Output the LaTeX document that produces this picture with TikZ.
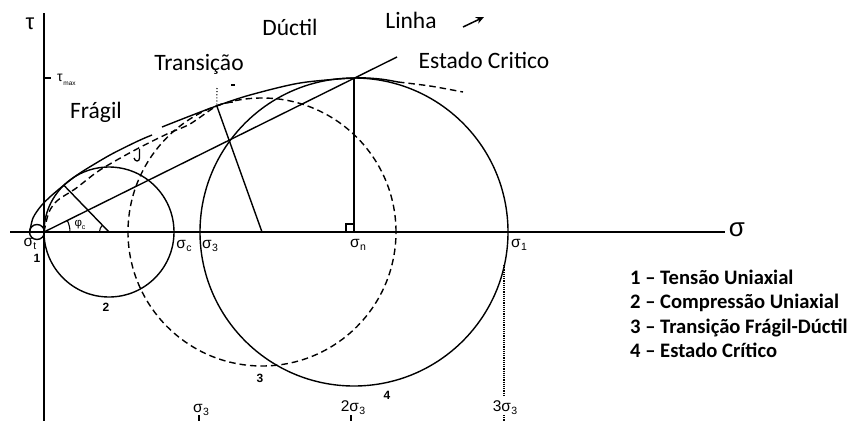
\documentclass[tikz,border=0pt]{standalone}
\usepackage{fontspec}
\setmainfont{Carlito}
\newfontfamily\ls{Liberation Sans}
\usetikzlibrary{arrows.meta}
\newcommand\sgl[2]{{\ls σ\kern0.02em\raisebox{-0.35ex}{\fontsize{#2}{#2}\selectfont #1}}}
\begin{document}
\begin{tikzpicture}[x=1pt,y=-1pt, line cap=butt,
  crv/.style={line width=1.4pt},
  dsh/.style={line width=1.4pt, dash pattern=on 6.5pt off 4pt},
  ax/.style={line width=1.8pt},
  thin1/.style={line width=1.1pt},
  lbl/.style={font=\fontsize{23.5}{27}\selectfont, anchor=base, inner sep=0pt},
  leg/.style={font=\bfseries\fontsize{20.6}{24}\selectfont, anchor=base west, inner sep=0pt},
  sig/.style={font=\ls\fontsize{15.5}{18}\selectfont, inner sep=0pt},
  num/.style={font=\ls\bfseries\fontsize{12}{14}\selectfont, inner sep=0pt}]
\useasboundingbox (0,0) rectangle (859,421);
% key points
\coordinate (O) at (44,232);
\coordinate (C1) at (37,232);
\coordinate (C2) at (109,232);
\coordinate (C3) at (262,232);
\coordinate (C4) at (354,232);
\coordinate (T2) at (63.8,185.2);
\coordinate (T3) at (216.8,105.9);
\coordinate (T4) at (354,78);
\coordinate (Lend) at (397,57);
% axes
\draw[ax] (10,232) -- (725,232);
\draw[ax] (44,13) -- (44,421);
\draw[thin1] (44,78) -- (51,78);
% Mohr circles
\draw[crv] (C1) circle (7.5pt);
\draw[crv] (C2) circle (65pt);
\draw[dsh] (C3) circle (134pt);
\draw[crv] (C4) circle (154pt);
% radii
\draw[crv] (C2) -- (T2);
\draw[crv] (C3) -- (T3);
\draw[crv] (C4) -- (T4);
\draw[thin1] (346,232) -- (346,224) -- (354,224);
\draw[thin1] (99.5,232) arc[start angle=180,end angle=134,radius=9.5pt];
% critical state line
\draw[crv] (O) -- (Lend);
\draw[thin1] (70,232) arc[start angle=0,end angle=26.4,radius=26pt];
% envelopes
\draw[crv] plot[smooth] coordinates {(29.5,233) (33,218) (41,206) (51,196) (T2) (80,173) (110,155) (138,141) (152,135)};
\draw[crv] plot[smooth] coordinates {(162,127) (190,116) (T3) (250,95) (300,83) (T4) (380,79) (398,82)};
\draw[dsh] plot[smooth] coordinates {(398,82) (430,86) (463,92)};
\draw[dsh] plot[smooth] coordinates {(O) (49,212) (58,200) (75,189) (100,170) (135,150) (167,134) (190,124) (T3) (233,102)};
\draw[line width=1.3pt] (139.5,149) -- (139.5,158) .. controls (139.5,162) and (135,162) .. (134,158);
% dotted guides and ticks
\draw[dotted, line width=1.1pt] (217,88) -- (T3);
\draw[thin1] (231,85) -- (235,85);
\draw[densely dotted, line width=1.2pt] (504,265) -- (504,397);
\draw[densely dotted, line width=1.2pt] (504,415) -- (504,421);
\draw[thin1] (199,415) -- (199,421);
\draw[thin1] (351,415) -- (351,421);
% axis labels
\node[font=\ls\fontsize{22}{24}\selectfont, inner sep=0pt] (tau) at (30,24) {τ};
\node[font=\ls\fontsize{26}{28}\selectfont, inner sep=0pt] (sigma) at (737,230) {σ};
\node[font=\ls\fontsize{14}{16}\selectfont, inner sep=0pt, anchor=west] (tmax) at (57,80) {τ\kern0.05em\raisebox{-0.5ex}{\fontsize{6.5}{7}\selectfont max}};
% sigma labels
\node[sig] (st) at (30,244) {\sgl{t}{10.5}};
\node[sig] (sc) at (184,246) {\sgl{c}{10.5}};
\node[sig] (s3a) at (210,246) {\sgl{3}{10.5}};
\node[sig] (sn) at (358,245) {\sgl{n}{10.5}};
\node[sig] (s1) at (519,245) {\sgl{1}{10.5}};
\node[sig] (s3b) at (201,410) {\sgl{3}{10.5}};
\node[sig] (s3c) at (353,408) {2\sgl{3}{10.5}};
\node[sig] (s3d) at (505,408) {3\sgl{3}{10.5}};
\node[font=\ls\fontsize{11.5}{12}\selectfont, inner sep=0pt] (phi) at (80,225) {φ\raisebox{-0.4ex}{\fontsize{7}{7}\selectfont c}};
% circle numbers
\node[num] (n1) at (37,258) {1};
\node[num] (n2) at (106,307) {2};
\node[num] (n3) at (260,378) {3};
\node[num] (n4) at (387,395) {4};
% region labels
\node[lbl] (dutil) at (290,35) {Dúctil};
\node[lbl] (linha) at (411,28) {Linha};
\node[lbl] (estado) at (484,68) {Estado Critico};
\node[lbl] (trans) at (199,70) {Transição};
\node[lbl] (fragil) at (96,118) {Frágil};
\coordinate (ar1) at (463,27);
\coordinate (ar2) at (484,17);
\draw[line width=1.5pt, -{Stealth[length=8pt,width=7pt]}] (ar1) -- (ar2);
% legend
\node[leg] (l1) at (630,284) {1 – Tensão Uniaxial};
\node[leg] (l2) at (630,308.5) {2 – Compressão Uniaxial};
\node[leg] (l3) at (630,333) {3 – Transição Frágil-Dúctil};
\node[leg] (l4) at (630,357.5) {4 – Estado Crítico};
\end{tikzpicture}
\end{document}
